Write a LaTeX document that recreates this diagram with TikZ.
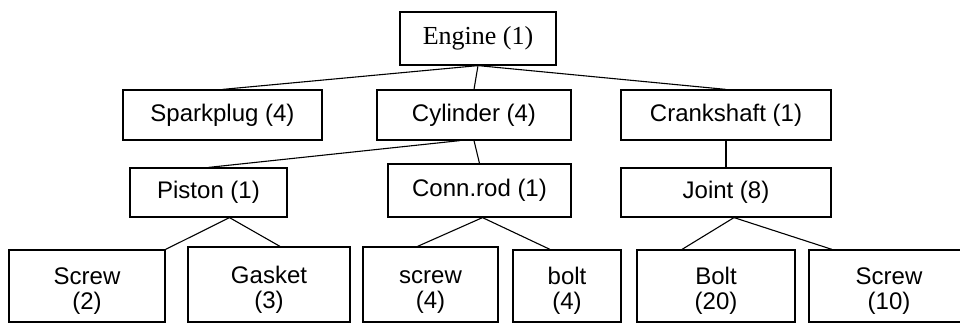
\documentclass[tikz,border=0pt]{standalone}
\usepackage{fontspec}
\setmainfont{Liberation Serif}
\setsansfont{Liberation Sans}
\usepackage{xcolor}
\definecolor{linecolor}{HTML}{000000}
\newcommand{\leaftext}[2]{\rule{0pt}{27pt}#1\\#2}
\tikzset{
  part/.style={draw=linecolor, line width=1.2pt, rectangle, inner sep=0pt, align=center,
    font=\sffamily\fontsize{24}{25}\selectfont},
  link/.style={draw=linecolor, line width=1.1pt}
}

\begin{document}
\begin{tikzpicture}[x=1pt, y=-1pt]
  \clip (0,0) rectangle (960,324);

  % Top level
  \node[part, minimum width=156, minimum height=53, font=\rmfamily\fontsize{26}{28}\selectfont] (engine) at (478,38.5) {Engine (1)};

  % Second level
  \node[part, minimum width=199, minimum height=50] (spark) at (222.5,115) {Sparkplug (4)};
  \node[part, minimum width=194, minimum height=50] (cyl) at (474,115) {Cylinder (4)};
  \node[part, minimum width=210, minimum height=50] (crank) at (726,115) {Crankshaft (1)};

  % Third level
  \node[part, minimum width=157, minimum height=49] (piston) at (208.5,192.5) {Piston (1)};
  \node[part, minimum width=183, minimum height=53] (conn) at (479.5,190.5) {Conn.rod (1)};
  \node[part, minimum width=210, minimum height=49] (joint) at (726,192.5) {Joint (8)};

  % Bottom level
  \node[part, minimum width=156, minimum height=72] (screwa) at (87,286) {\leaftext{Screw}{(2)}};
  \node[part, minimum width=162, minimum height=75] (gasket) at (269,284.5) {\leaftext{Gasket}{(3)}};
  \node[part, minimum width=135, minimum height=75] (screwb) at (430.5,284.5) {\leaftext{screw}{(4)}};
  \node[part, minimum width=108, minimum height=72] (bolta) at (567,286) {\leaftext{bolt}{(4)}};
  \node[part, minimum width=158, minimum height=72] (boltb) at (716,286) {\leaftext{Bolt}{(20)}};
  \node[part, minimum width=160, minimum height=72] (screwc) at (889,286) {\leaftext{Screw}{(10)}};

  % Connections
  \foreach \child in {spark, cyl, crank}
    \draw[link] (engine.south) -- (\child.north);
  \draw[link] ([xshift=-14pt]cyl.south) -- (piston.north);
  \draw[link] (cyl.south) -- (conn.north);
  \draw[link] (crank.south) -- (joint.north);
  \draw[link] ([xshift=21pt]piston.south) -- (screwa.north east);
  \draw[link] ([xshift=21pt]piston.south) -- ([xshift=11pt]gasket.north);
  \draw[link] ([xshift=3pt]conn.south) -- ([xshift=-13pt]screwb.north);
  \draw[link] ([xshift=3pt]conn.south) -- ([xshift=-17pt]bolta.north);
  \draw[link] ([xshift=8pt]joint.south) -- ([xshift=-34pt]boltb.north);
  \draw[link] ([xshift=8pt]joint.south) -- ([xshift=-57pt]screwc.north);
\end{tikzpicture}
\end{document}
